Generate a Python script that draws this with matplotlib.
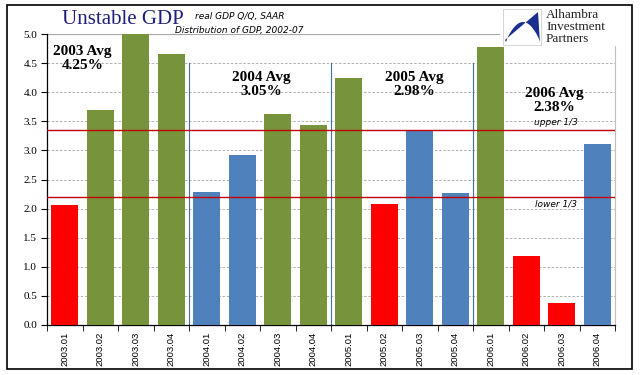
import matplotlib.pyplot as plt
import numpy as np
from matplotlib.patches import Rectangle, Polygon

quarters = ['2003.01', '2003.02', '2003.03', '2003.04',
            '2004.01', '2004.02', '2004.03', '2004.04',
            '2005.01', '2005.02', '2005.03', '2005.04',
            '2006.01', '2006.02', '2006.03', '2006.04']
gdp = [2.07, 3.70, 6.58, 4.65,
       2.28, 2.92, 3.62, 3.43,
       4.25, 2.08, 3.35, 2.27,
       4.78, 1.19, 0.37, 3.11]
upper_third = 3.35
lower_third = 2.20
year_labels = ['2003 Avg\n4.25%', '2004 Avg\n3.05%', '2005 Avg\n2.98%', '2006 Avg\n2.38%']

RED = '#FF0000'
GREEN = '#77933C'
BLUE = '#4F81BD'


def bar_color(v):
    if v > upper_third:
        return GREEN
    if v < lower_third:
        return RED
    return BLUE


W, H = 641, 375
fig = plt.figure(figsize=(W / 100, H / 100), dpi=100)
plt.rcParams['font.family'] = ['Liberation Serif', 'DejaVu Serif']

ax = fig.add_axes([47 / W, 1 - 325 / H, (615 - 47) / W, (325 - 34) / H])

x = np.arange(len(quarters))
ax.bar(x, gdp, width=0.76, color=[bar_color(v) for v in gdp], zorder=3)

ax.set_xlim(-0.5, len(quarters) - 0.5)
ax.set_ylim(0, 5.0)

# grid
ax.set_yticks(np.arange(0, 5.01, 0.5))
ax.set_yticklabels(['%.1f' % v for v in np.arange(0, 5.01, 0.5)], fontsize=8)
for v in np.arange(0.5, 4.99, 0.5):
    ax.axhline(v, color='#A6A6A6', lw=0.6, ls=(0, (3, 2)), zorder=1)
ax.axhline(5.0, color='#A6A6A6', lw=0.8, zorder=1)

# thirds
ax.axhline(upper_third, color='#C00000', lw=1.0, zorder=4)
ax.axhline(lower_third, color='#C00000', lw=1.0, zorder=4)
ax.text(13.85, upper_third + 0.05, 'upper 1/3', fontsize=6.5, style='italic',
        family=['DejaVu Sans'], ha='center', va='bottom', zorder=5)
ax.text(13.85, lower_third - 0.05, 'lower 1/3', fontsize=6.5, style='italic',
        family=['DejaVu Sans'], ha='center', va='top', zorder=5)

# year separators
for sx in [3.5, 7.5, 11.5]:
    ax.plot([sx, sx], [0, 4.5], color='#3E6EA8', lw=0.8, zorder=2)

# year averages
label_pos = [(0.5, 4.58), (5.55, 4.13), (9.85, 4.13), (13.8, 3.86)]
for (lx, ly), txt in zip(label_pos, year_labels):
    ax.text(lx, ly, txt, fontsize=11, fontweight='bold', ha='center',
            va='center', linespacing=1.1, zorder=5)

# x axis ticks
ax.set_xticks(x)
ax.set_xticklabels(quarters, rotation=90, fontsize=6.8,
                   family=['Liberation Sans', 'DejaVu Sans'])
ax.tick_params(axis='x', which='major', length=0, pad=5)
ax.set_xticks(np.arange(-0.5, len(quarters), 1), minor=True)
ax.tick_params(axis='x', which='minor', length=4, direction='out')
ax.tick_params(axis='y', length=4, direction='out', pad=3)

ax.spines['top'].set_visible(False)
ax.spines['right'].set_color('#BFBFBF')
ax.spines['left'].set_linewidth(0.9)
ax.spines['bottom'].set_linewidth(0.9)

# titles
fig.text(62 / W, 1 - 19 / H, 'Unstable GDP', fontsize=15, color='#1F1F7A',
         ha='left', va='center')
fig.text(195 / W, 1 - 17 / H, 'real GDP Q/Q, SAAR', fontsize=6.5, style='italic',
         family=['DejaVu Sans'], ha='left', va='center')
fig.text(175 / W, 1 - 31 / H, 'Distribution of GDP, 2002-07', fontsize=6.5,
         style='italic', family=['DejaVu Sans'], ha='left', va='center')

# logo
fig.patches.append(Rectangle((500 / W, 1 - 46 / H), 132 / W, 41 / H,
                             transform=fig.transFigure, facecolor='white',
                             edgecolor='none', zorder=10))
t = np.linspace(0, 1, 25)
curve = [(506 + 34 * s, 42 - 20 * np.sin(s * np.pi) ** 0.8) for s in t]
pts = [(538, 12), (540, 43)] + curve[::-1] + [(505, 40)]
fig.patches.append(Polygon([(px / W, 1 - py / H) for px, py in pts],
                           closed=True, transform=fig.transFigure,
                           facecolor='#1B2F8F', edgecolor='none', zorder=11))
fig.patches.append(Rectangle((503 / W, 1 - 45 / H), 38 / W, 36 / H,
                             transform=fig.transFigure, facecolor='none',
                             edgecolor='#D0D0D0', lw=0.6, zorder=12))
fig.text(546 / W, 1 - 27 / H, 'Alhambra\nInvestment\nPartners', fontsize=9.5,
         color='#222222', ha='left', va='center', linespacing=0.95, zorder=13)

# outer frame
fig.patches.append(Rectangle((7 / W, 1 - 369 / H), 625 / W, 364 / H,
                             transform=fig.transFigure, facecolor='none',
                             edgecolor='black', lw=1.2, zorder=20))

fig.savefig('out.png', dpi=100)
